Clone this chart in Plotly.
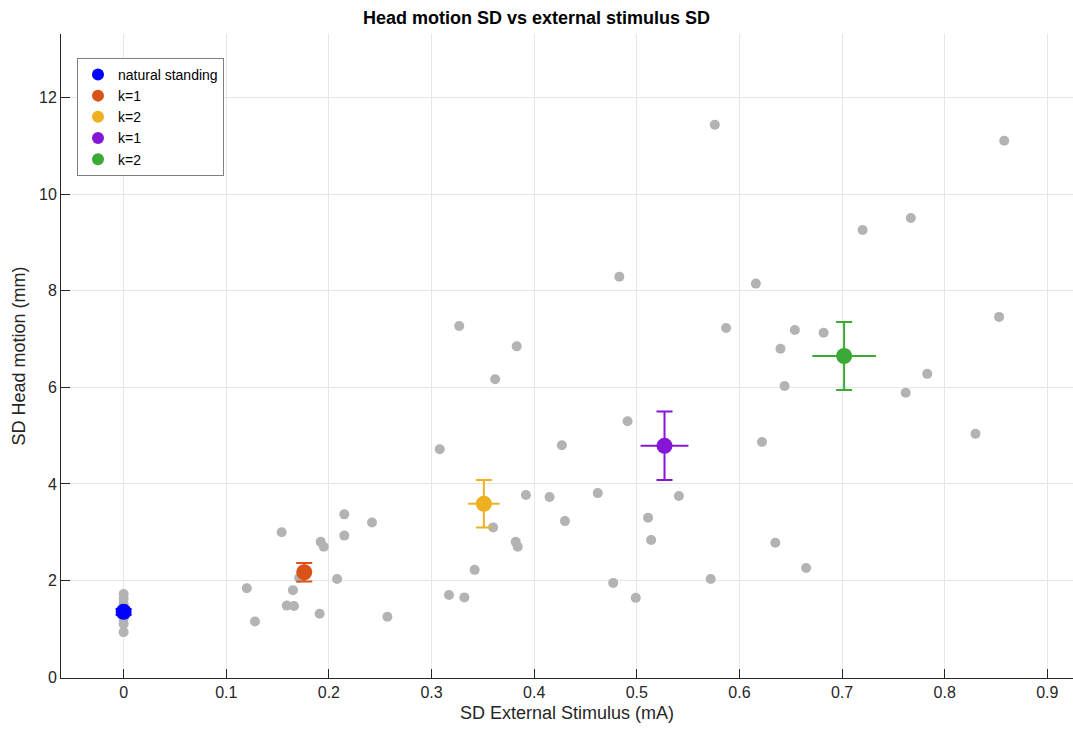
import plotly.graph_objects as go

# Individual subjects (gray)
gray_x = [0, 0, 0, 0, 0, 0, 0, 0, 0,
          0.120, 0.128, 0.154, 0.159, 0.166, 0.165, 0.171, 0.178, 0.192, 0.195,
          0.191, 0.208, 0.215, 0.215, 0.242, 0.257, 0.308, 0.317, 0.327, 0.332,
          0.342, 0.360, 0.362, 0.383, 0.382, 0.384, 0.392, 0.415, 0.427, 0.430,
          0.462, 0.477, 0.483, 0.491, 0.499, 0.511, 0.514, 0.541, 0.572, 0.576,
          0.587, 0.616, 0.622, 0.635, 0.640, 0.644, 0.654, 0.665, 0.682, 0.720,
          0.762, 0.767, 0.783, 0.830, 0.853, 0.858]
gray_y = [1.72, 1.62, 1.52, 1.45, 1.38, 1.30, 1.20, 1.10, 0.93,
          1.84, 1.15, 3.00, 1.48, 1.47, 1.80, 2.05, 2.17, 2.80, 2.70,
          1.31, 2.03, 3.37, 2.93, 3.20, 1.25, 4.72, 1.70, 7.27, 1.65,
          2.22, 3.10, 6.17, 6.85, 2.80, 2.70, 3.77, 3.73, 4.80, 3.23,
          3.81, 1.95, 8.29, 5.30, 1.64, 3.30, 2.84, 3.75, 2.03, 11.44,
          7.23, 8.15, 4.87, 2.78, 6.80, 6.03, 7.19, 2.26, 7.13, 9.26,
          5.89, 9.51, 6.28, 5.04, 7.46, 11.11]

# Group means with SEM
group_names = ["natural standing", "k=1", "k=2", "k=1", "k=2"]
group_x = [0.0, 0.176, 0.351, 0.527, 0.702]
group_y = [1.35, 2.17, 3.59, 4.79, 6.65]
group_ex = [0.0, 0.004, 0.0153, 0.0233, 0.031]
group_ey = [0.06, 0.19, 0.49, 0.71, 0.705]
group_colors = ["#0000FF", "#D95319", "#EDB120", "#8516D6", "#3AA935"]

x_ticks = [0, 0.1, 0.2, 0.3, 0.4, 0.5, 0.6, 0.7, 0.8, 0.9]
y_ticks = [0, 2, 4, 6, 8, 10, 12]

fig = go.Figure()
fig.add_trace(go.Scatter(
    x=gray_x, y=gray_y, mode="markers", showlegend=False, hoverinfo="x+y",
    marker=dict(size=10, color="#B3B3B3", line=dict(width=0)),
))
for name, x, y, ex, ey, c in zip(group_names, group_x, group_y, group_ex, group_ey, group_colors):
    fig.add_trace(go.Scatter(
        x=[x], y=[y], mode="markers", name=name,
        marker=dict(size=16, color=c, line=dict(width=0)),
        error_x=dict(type="data", array=[ex], color=c, thickness=2, width=0, visible=True),
        error_y=dict(type="data", array=[ey], color=c, thickness=2, width=8, visible=True),
    ))

font_family = "Liberation Sans, Arial, Helvetica, sans-serif"
fig.update_layout(
    width=1073, height=729,
    margin=dict(l=61, r=0, t=34, b=51),
    paper_bgcolor="white", plot_bgcolor="white",
    font=dict(family=font_family, size=16, color="#262626"),
    title=dict(text="<b>Head motion SD vs external stimulus SD</b>", x=0.5, xanchor="center",
               y=1 - 18 / 729, yanchor="middle", font=dict(size=18, color="#000000")),
    legend=dict(x=0.0158, y=0.963, xanchor="left", yanchor="top",
                bgcolor="white", bordercolor="#7f7f7f", borderwidth=1,
                font=dict(size=14, color="#000000"), tracegroupgap=0,
                itemsizing="constant", itemwidth=30),
    xaxis=dict(range=[-0.061, 0.925], tickvals=x_ticks,
               ticktext=[("%g" % v) for v in x_ticks],
               showgrid=True, gridcolor="#E6E6E6", gridwidth=1,
               zeroline=False, showline=True, linecolor="#262626", linewidth=1,
               ticks="inside", ticklen=9, tickcolor="#262626", automargin=False,
               title=dict(text="SD External Stimulus (mA)", font=dict(size=18), standoff=6)),
    yaxis=dict(range=[-0.02, 13.32], tickvals=y_ticks,
               showgrid=True, gridcolor="#E6E6E6", gridwidth=1,
               zeroline=False, showline=True, linecolor="#262626", linewidth=1,
               ticks="inside", ticklen=9, tickcolor="#262626", automargin=False,
               title=dict(text="SD Head motion (mm)", font=dict(size=18), standoff=8)),
)
fig.write_html("out.html", config={"displayModeBar": False},
               post_script="document.body.style.margin='0';document.body.style.padding='0';")
